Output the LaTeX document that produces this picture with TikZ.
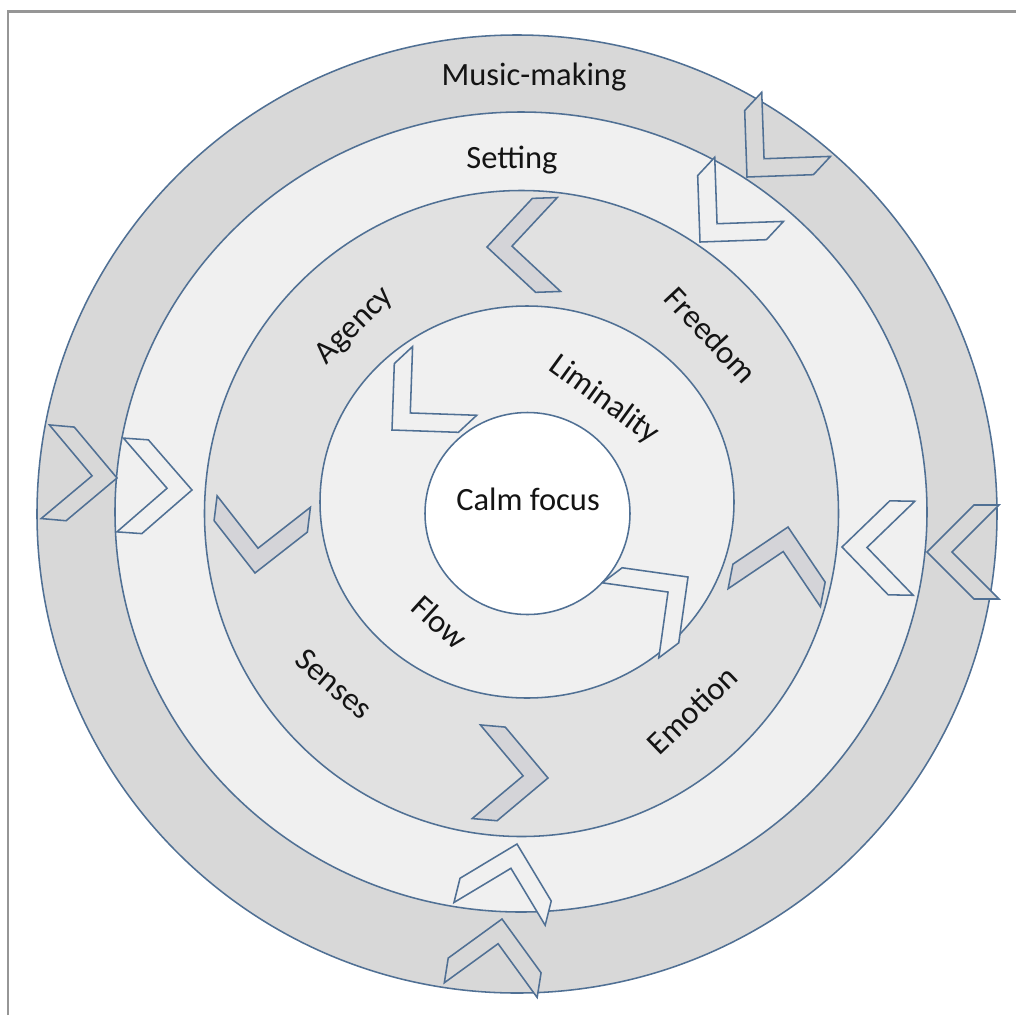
\documentclass[tikz,border=0pt]{standalone}
\usepackage{fontspec}
\setmainfont{Carlito}
\usepackage{tikz}
\usetikzlibrary{positioning}
\definecolor{ringblue}{RGB}{80,112,148}
\definecolor{ringdark}{RGB}{216,216,216}
\definecolor{ringmid}{RGB}{225,225,225}
\definecolor{ringlight}{RGB}{240,240,240}
\definecolor{chevmid}{RGB}{212,212,216}
\definecolor{framegray}{RGB}{150,150,150}
\tikzset{
  ringline/.style={draw=ringblue, line width=1.1pt},
  label/.style={font=\fontsize{23.1}{27}\selectfont, text=black!92, inner sep=0pt},
  chev/.pic={\path[ringline, pic actions] (0,0) -- (-47,47) -- (-72,47) -- (-25,0)
      -- (-72,-47) -- (-47,-47) -- cycle;},
}

\begin{document}
\begin{tikzpicture}[x=0.025cm, y=0.025cm]
\useasboundingbox (-520,-502) rectangle (496,513);

% frame
\draw[framegray, line width=2pt] (-512,-502) -- (-512,501.5) -- (496,501.5);

% rings, outside in
\draw[ringline, fill=ringdark] (-3,-1) ellipse [x radius=480, y radius=479];
\draw[ringline, fill=ringlight] (1,1) ellipse [x radius=406, y radius=400];
\draw[ringline, fill=ringmid] (1.5,-0.5) ellipse [x radius=317, y radius=323];
\draw[ringline, fill=ringlight] (7,11) ellipse [x radius=207, y radius=196];
\draw[ringline, fill=white] (7.5,-0.5) ellipse [x radius=102.5, y radius=101];

% chevrons: outer ring
\pic[rotate=-5, fill=ringdark] at (-403,35) {chev};
\pic[rotate=180, fill=ringdark] at (407,-39) {chev};
\pic[rotate=81, fill=ringdark] at (-18,-406) {chev};
\pic[rotate=227, fill=ringdark] at (227,336) {chev};
% setting ring
\pic[rotate=-4, fill=ringlight] at (-328,23) {chev};
\pic[rotate=179, fill=ringlight] at (322,-34) {chev};
\pic[rotate=76, fill=ringlight] at (-3,-331) {chev};
\pic[rotate=227, fill=ringlight] at (180,271) {chev};
% agency ring
\pic[rotate=182, fill=chevmid] at (-33,266) {chev};
\pic[rotate=263, fill=chevmid] at (-265,-60) {chev};
\pic[rotate=-5, fill=chevmid] at (28,-265) {chev};
\pic[rotate=79, fill=chevmid] at (268,-14) {chev};
% liminality ring
\pic[rotate=223, fill=ringlight] at (-128,83) {chev};
\pic[rotate=37, fill=ringlight] at (168,-64) {chev};

% labels
\node[label, anchor=base] (music) at (14,428) {Music-making};
\node[label, anchor=base] (setting) at (-8,345) {Setting};
\node[label, anchor=base] (calm) at (8,3) {Calm focus};
\node[label, rotate=45] (agency) at (-165,187) {Agency};
\node[label, rotate=-47] (freedom) at (191,178) {Freedom};
\node[label, rotate=-36] (liminal) at (84,113) {Liminality};
\node[label, rotate=-42] (flow) at (-80,-109) {Flow};
\node[label, rotate=-41] (senses) at (-186,-171) {Senses};
\node[label, rotate=44] (emotion) at (172,-197) {Emotion};
\end{tikzpicture}
\end{document}
